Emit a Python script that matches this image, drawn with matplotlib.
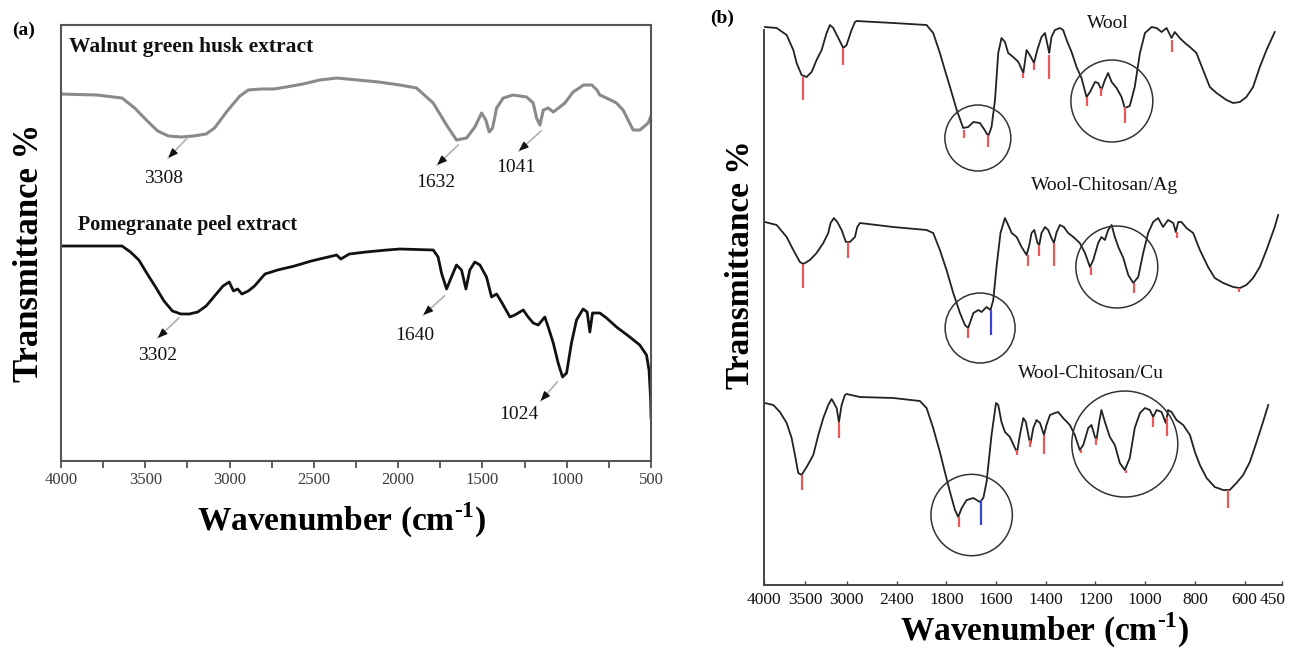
import numpy as np
import matplotlib
matplotlib.use('Agg')
import matplotlib.pyplot as plt
from matplotlib.ticker import MultipleLocator, FixedLocator, FixedFormatter
from matplotlib.transforms import ScaledTranslation

plt.rcParams['font.family'] = ['Liberation Serif', 'DejaVu Serif']
plt.rcParams['mathtext.fontset'] = 'custom'
plt.rcParams['mathtext.rm'] = 'Liberation Serif:bold'
plt.rcParams['mathtext.bf'] = 'Liberation Serif:bold'

# ---------------- Panel (a) data ----------------
wal_wn = [4000, 3788, 3638, 3563, 3488, 3426, 3363, 3288, 3214, 3139, 3089, 3014, 2939, 2889, 2815,
          2739, 2665, 2565, 2465, 2365, 2241, 2115, 1990, 1891, 1792, 1713, 1654, 1594, 1545, 1505,
          1480, 1460, 1440, 1416, 1377, 1318, 1238, 1199, 1179, 1159, 1139, 1110, 1080, 1041, 1011,
          962, 900, 851, 821, 804, 764, 705, 666, 636, 606, 566, 517, 500]
wal_T = [367, 366, 363, 353, 340, 330, 325, 324, 325, 327, 333, 350, 365, 371, 372,
         372, 374, 377, 381, 383, 381, 379, 376, 373, 358, 336, 321, 323, 334, 348,
         341, 329, 333, 353, 363, 366, 364, 358, 343, 336, 351, 353, 349, 354, 358,
         369, 376, 376, 371, 366, 363, 358, 351, 341, 331, 331, 338, 345]

pom_wn = [4000, 3638, 3588, 3538, 3488, 3439, 3389, 3339, 3289, 3239, 3189, 3139, 3089, 3039, 3002,
          2977, 2952, 2927, 2889, 2852, 2790, 2715, 2615, 2515, 2415, 2365, 2340, 2290, 2191, 2066,
          1990, 1792, 1763, 1743, 1713, 1684, 1654, 1624, 1598, 1575, 1545, 1515, 1476, 1446, 1416,
          1387, 1337, 1308, 1258, 1229, 1199, 1169, 1130, 1110, 1080, 1051, 1025, 1001, 972, 942,
          903, 879, 863, 847, 804, 764, 705, 626, 567, 527, 512, 503, 500]
pom_T = [215, 215, 209, 201, 187, 174, 160, 150, 147, 147, 149, 155, 165, 175, 179,
         170, 172, 167, 170, 175, 187, 191, 195, 200, 204, 206, 202, 207, 209, 211,
         212, 211, 204, 188, 172, 184, 196, 191, 172, 191, 199, 196, 184, 164, 167,
         159, 144, 146, 151, 144, 138, 136, 144, 134, 118, 98, 84, 88, 118, 141,
         152, 149, 129, 148, 148, 143, 134, 124, 116, 106, 91, 64, 44]

a_labels = ['3308', '1632', '1041', '3302', '1640', '1024']
a_label_wn = [3389, 1775, 1300, 3426, 1902, 1284]
a_label_T = [283, 279, 294, 105, 125, 46]
a_arrow_from_wn = [3251, 1644, 1152, 3301, 1726, 1056]
a_arrow_from_T = [323, 316, 330, 143, 165, 79]
a_arrow_to_wn = [3364, 1769, 1284, 3426, 1851, 1155]
a_arrow_to_T = [303, 296, 310, 123, 146, 60]

# ---------------- Panel (b) data ----------------
b_ticks = [4000, 3500, 3000, 2400, 1800, 1600, 1400, 1200, 1000, 800, 600, 450]

wool_wn = [3988, 3847, 3726, 3646, 3606, 3546, 3485, 3425, 3365, 3304, 3244, 3204, 3164, 3103, 3043,
           3003, 2943, 2902, 2882, 2440, 2038, 1958, 1877, 1817, 1785, 1758, 1732, 1712, 1691, 1665,
           1651, 1631, 1618, 1604, 1591, 1578, 1564, 1551, 1531, 1510, 1490, 1477, 1464, 1447, 1434,
           1417, 1403, 1397, 1386, 1377, 1363, 1343, 1330, 1316, 1296, 1276, 1256, 1236, 1222, 1202,
           1189, 1176, 1162, 1149, 1135, 1115, 1095, 1082, 1062, 1042, 1021, 1001, 974, 954, 934,
           914, 894, 881, 861, 840, 820, 794, 767, 740, 713, 673, 646, 619, 593, 566,
           539, 512, 479]
wool_T = [558, 557, 550, 535, 522, 510, 508, 513, 525, 535, 552, 560, 557, 547, 537,
          540, 555, 563, 564, 562, 560, 552, 532, 515, 498, 475, 457, 458, 463, 462,
          457, 449, 458, 485, 532, 547, 543, 532, 528, 523, 512, 535, 530, 522, 535,
          548, 552, 545, 532, 548, 555, 557, 555, 545, 533, 518, 507, 488, 493, 503,
          502, 495, 505, 512, 503, 497, 488, 477, 479, 498, 532, 552, 558, 557, 553,
          557, 547, 553, 547, 542, 538, 532, 515, 498, 492, 485, 482, 483, 488, 498,
          518, 535, 553]
wool_mk_wn = [3533, 3043, 1729, 1631, 1490, 1447, 1386, 1232, 1176, 1082, 891]
wool_mk_top = [508, 537, 455, 450, 512, 522, 530, 488, 497, 478, 545]
wool_mk_bot = [485, 520, 447, 438, 507, 515, 506, 479, 489, 462, 533]

ag_wn = [3988, 3847, 3726, 3646, 3566, 3525, 3445, 3365, 3284, 3224, 3196, 3156, 3115, 3063, 3011,
         2963, 2902, 2874, 2842, 2440, 2038, 1958, 1877, 1799, 1772, 1745, 1725, 1712, 1691, 1671,
         1658, 1638, 1622, 1611, 1598, 1582, 1564, 1551, 1537, 1517, 1497, 1477, 1466, 1457, 1446,
         1433, 1426, 1417, 1403, 1390, 1377, 1367, 1356, 1343, 1327, 1310, 1289, 1263, 1242, 1222,
         1209, 1189, 1176, 1162, 1149, 1135, 1122, 1108, 1088, 1068, 1048, 1028, 1008, 988, 968,
         948, 928, 908, 887, 877, 867, 854, 834, 807, 780, 747, 720, 686, 646, 619,
         593, 566, 539, 512, 479, 465]
ag_T = [363, 360, 348, 335, 323, 321, 325, 332, 342, 352, 362, 367, 363, 355, 343,
        343, 348, 358, 362, 358, 355, 352, 335, 315, 292, 272, 260, 257, 272, 275,
        273, 278, 275, 285, 318, 352, 367, 360, 352, 348, 338, 330, 340, 352, 355,
        342, 340, 352, 358, 355, 347, 342, 353, 360, 358, 352, 348, 342, 332, 318,
        325, 342, 348, 345, 355, 360, 348, 338, 327, 310, 302, 308, 332, 352, 363,
        367, 358, 365, 362, 353, 363, 363, 357, 352, 335, 318, 307, 302, 298, 297,
        300, 307, 318, 335, 358, 370]
ag_mk_wn = [3533, 2991, 1712, 1470, 1427, 1367, 1218, 1045, 874, 623]
ag_mk_top = [321, 343, 257, 330, 340, 342, 318, 302, 353, 297]
ag_mk_bot = [297, 327, 247, 319, 329, 319, 310, 292, 347, 293]
ag_blue_wn, ag_blue_top, ag_blue_bot = [1620], [275], [250]

cu_wn = [3988, 3887, 3807, 3726, 3666, 3626, 3586, 3546, 3485, 3405, 3344, 3284, 3224, 3184, 3156,
         3123, 3095, 3063, 3023, 3003, 2842, 2440, 2118, 2038, 1958, 1877, 1817, 1785, 1765, 1752,
         1738, 1718, 1691, 1665, 1651, 1638, 1618, 1600, 1591, 1578, 1564, 1544, 1524, 1515, 1504,
         1490, 1480, 1466, 1461, 1450, 1437, 1423, 1407, 1397, 1383, 1363, 1350, 1330, 1303, 1283,
         1263, 1249, 1229, 1216, 1202, 1196, 1185, 1176, 1162, 1142, 1122, 1102, 1082, 1062, 1042,
         1021, 1001, 981, 968, 954, 934, 917, 908, 894, 874, 847, 820, 800, 780, 753,
         720, 686, 660, 633, 606, 579, 552, 526, 505]
cu_T = [182, 180, 173, 162, 147, 130, 112, 110, 118, 130, 150, 167, 180, 186, 182,
        177, 163, 180, 190, 191, 188, 187, 184, 177, 157, 133, 113, 93, 75, 68,
        77, 85, 87, 83, 87, 103, 150, 182, 180, 163, 153, 148, 137, 133, 150,
        167, 163, 145, 142, 157, 165, 162, 150, 160, 170, 172, 173, 167, 160, 150,
        135, 140, 157, 160, 148, 145, 163, 175, 163, 148, 140, 122, 115, 127, 157,
        172, 177, 175, 168, 175, 173, 162, 175, 173, 165, 160, 150, 133, 120, 107,
        98, 95, 95, 102, 110, 123, 143, 163, 180]
cu_mk_wn = [3546, 3095, 1749, 1515, 1464, 1407, 1259, 1198, 1079, 968, 914, 666]
cu_mk_top = [110, 163, 68, 135, 145, 150, 135, 147, 115, 168, 168, 95]
cu_mk_bot = [95, 147, 58, 130, 138, 131, 132, 140, 112, 158, 149, 77]
cu_blue_wn, cu_blue_top, cu_blue_bot = [1662], [85], [60]

circle_wn = [1673, 1134, 1664, 1114, 1698, 1082]
circle_T = [447, 484, 257, 318, 70, 141]
circle_d_pt = [47.5, 59.0, 50.4, 59.0, 58.6, 76.3]

b_names = ['Wool', 'Wool-Chitosan/Ag', 'Wool-Chitosan/Cu']
b_name_wn = [1150, 1162, 1218]
b_name_T = [562, 400, 212]

# ---------------- Figure ----------------
fig = plt.figure(figsize=(12.92, 6.48), dpi=100)

# Panel (a)
axa = fig.add_axes([0.0472, 0.2886, 0.4567, 0.6728])
axa.plot(wal_wn, wal_T, color='#8a8a8a', lw=2.2, solid_joinstyle='round')
axa.plot(pom_wn, pom_T, color='#111111', lw=2.0, solid_joinstyle='round')
axa.set_xlim(4000, 500)
axa.set_ylim(0, 436)
axa.set_yticks([])
axa.xaxis.set_major_locator(MultipleLocator(500))
axa.xaxis.set_minor_locator(MultipleLocator(250))
axa.tick_params(axis='x', which='both', direction='out', length=5, width=1.2,
                color='#444444', labelsize=12, labelcolor='#3a3a3a', pad=3)
for s in axa.spines.values():
    s.set_color('#555555')
    s.set_linewidth(1.5)

axa.text(3953, 414, 'Walnut green husk extract', fontsize=15.5, fontweight='bold',
         ha='left', va='center', color='#111111')
axa.text(3899, 236, 'Pomegranate peel extract', fontsize=14.5, fontweight='bold',
         ha='left', va='center', color='#111111')

for lab, lx, ly, fx, fy, tx, ty in zip(a_labels, a_label_wn, a_label_T, a_arrow_from_wn,
                                       a_arrow_from_T, a_arrow_to_wn, a_arrow_to_T):
    axa.text(lx, ly, lab, fontsize=14, ha='center', va='center', color='#111111')
    axa.plot([fx, tx], [fy, ty], color='#b0b0b0', lw=1.2)
    bx = tx + 0.3 * (fx - tx)
    by = ty + 0.3 * (fy - ty)
    axa.annotate('', xy=(tx, ty), xytext=(bx, by),
                 arrowprops=dict(arrowstyle='-|>,head_length=0.55,head_width=0.22',
                                 color='#111111', lw=1.0, shrinkA=0, shrinkB=0))

# Panel (b)
def fwd(w):
    w = np.asarray(w, dtype=float)
    return np.where(w >= 1800, w, 1800 - (1800 - w) * 3.0)

def inv(u):
    u = np.asarray(u, dtype=float)
    return np.where(u >= 1800, u, 1800 - (1800 - u) / 3.0)

axb = fig.add_axes([0.5913, 0.0972, 0.4009, 0.8565])
axb.set_xscale('function', functions=(fwd, inv))
axb.set_xlim(4000, 450)
axb.set_ylim(0, 555)

for wn, tt in [(wool_wn, wool_T), (ag_wn, ag_T), (cu_wn, cu_T)]:
    axb.plot(wn, tt, color='#222222', lw=1.3, solid_joinstyle='round', clip_on=False)

red = '#e85a5a'
blue = '#3a45d0'
axb.vlines(wool_mk_wn, wool_mk_bot, wool_mk_top, colors=red, lw=1.6)
axb.vlines(ag_mk_wn, ag_mk_bot, ag_mk_top, colors=red, lw=1.6)
axb.vlines(cu_mk_wn, cu_mk_bot, cu_mk_top, colors=red, lw=1.6)
axb.vlines(ag_blue_wn, ag_blue_bot, ag_blue_top, colors=blue, lw=1.6)
axb.vlines(cu_blue_wn, cu_blue_bot, cu_blue_top, colors=blue, lw=1.6)

axb.scatter(circle_wn, circle_T, s=np.array(circle_d_pt) ** 2, facecolors='none',
            edgecolors='#333333', linewidths=1.1, zorder=3)

for name, nx, ny in zip(b_names, b_name_wn, b_name_T):
    axb.text(nx, ny, name, fontsize=14, ha='center', va='center', color='#111111',
             clip_on=False)

axb.xaxis.set_major_locator(FixedLocator(b_ticks))
axb.xaxis.set_major_formatter(FixedFormatter([str(t) for t in b_ticks]))
axb.xaxis.set_minor_locator(FixedLocator([]))
axb.set_yticks([])
axb.tick_params(axis='x', which='both', direction='in', length=3, width=1.0,
                color='#444444', labelsize=12.5, labelcolor='#111111', pad=5)
axb.spines['top'].set_visible(False)
axb.spines['right'].set_visible(False)
for k in ['left', 'bottom']:
    axb.spines[k].set_color('#444444')
    axb.spines[k].set_linewidth(1.4)

# keep the last tick label ("450") inside the figure
last_lab = axb.get_xticklabels()[-1]
last_lab.set_transform(last_lab.get_transform() +
                       ScaledTranslation(-7 / 72, 0, fig.dpi_scale_trans))

# Figure-level labels
xlabel = 'Wavenumber (cm$^{\\text{-1}}$)'
fig.text(0.0186, 0.9537, '(a)', fontsize=14, fontweight='bold', ha='center', va='center')
fig.text(0.5588, 0.9722, '(b)', fontsize=14, fontweight='bold', ha='center', va='center')
fig.text(0.0232, 0.6100, 'Transmittance %', fontsize=25, fontweight='bold',
         rotation=90, ha='center', va='center')
fig.text(0.5728, 0.5910, 'Transmittance %', fontsize=24, fontweight='bold',
         rotation=90, ha='center', va='center')
fig.text(0.2647, 0.1975, xlabel, fontsize=24, fontweight='bold',
         ha='center', va='center')
fig.text(0.8088, 0.0270, xlabel, fontsize=24, fontweight='bold',
         ha='center', va='center')

fig.savefig('out.png', dpi=100, facecolor='white')
